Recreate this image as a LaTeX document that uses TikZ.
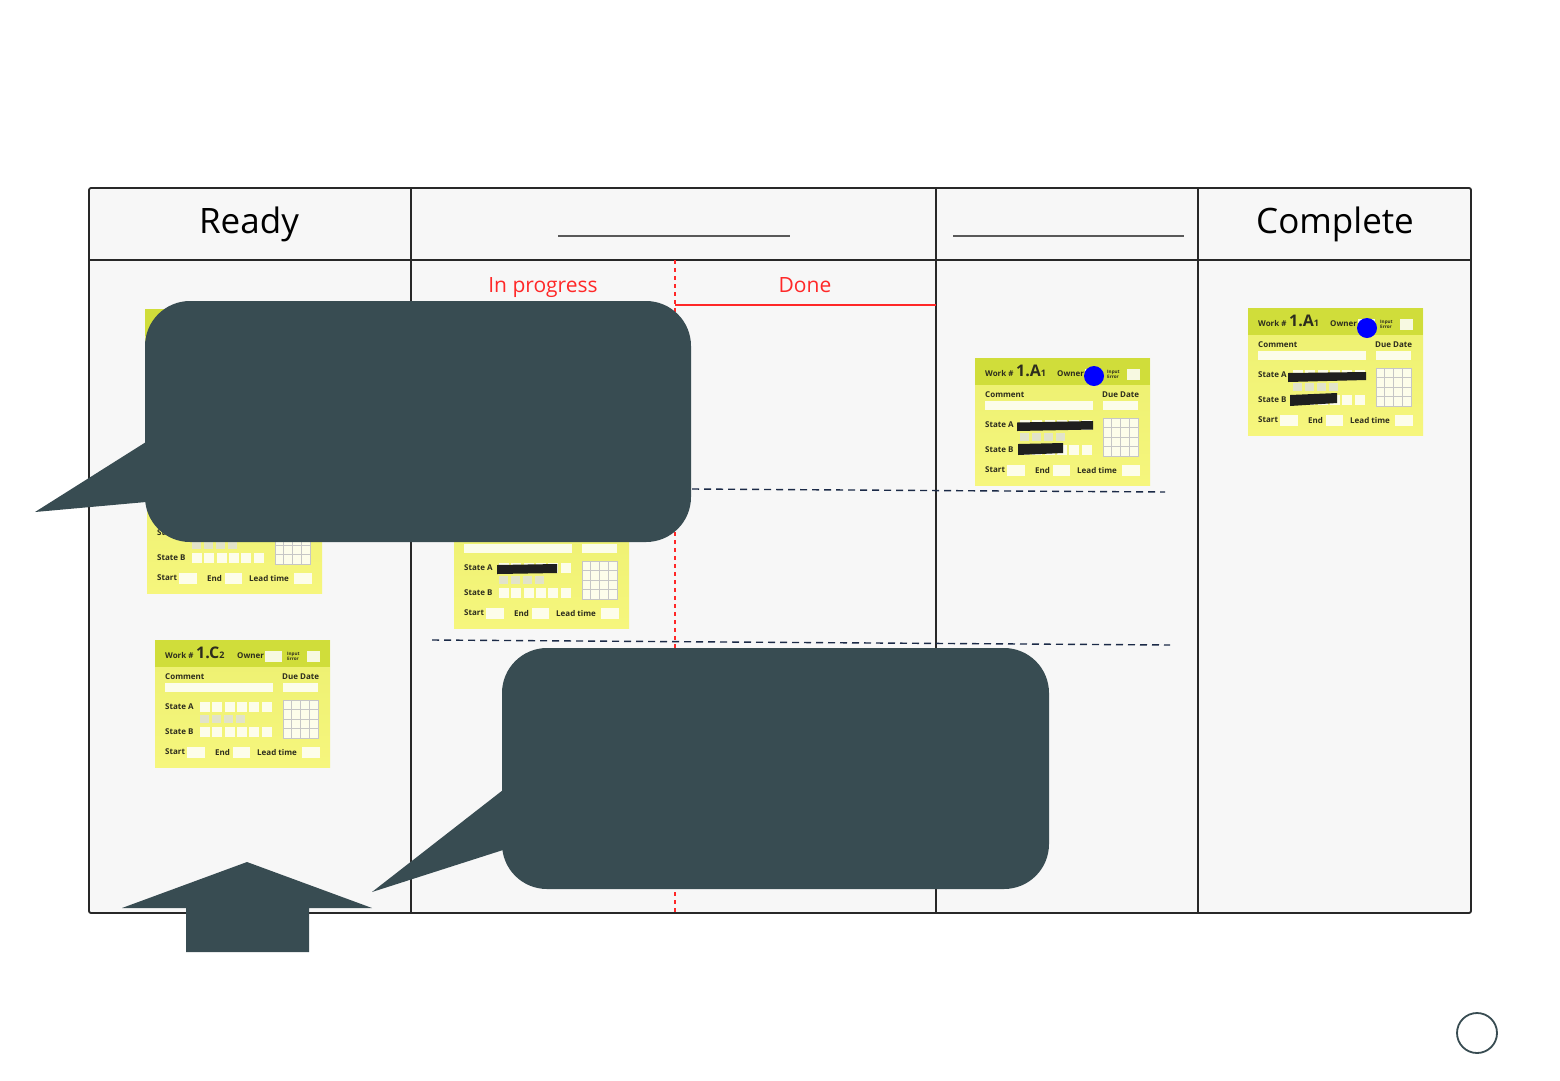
\documentclass[tikz,border=0pt]{standalone}
\usepackage{fontspec}
\setmainfont{Open Sans}
\definecolor{boardbg}{RGB}{247,247,247}
\definecolor{boardline}{RGB}{40,40,40}
\definecolor{calloutbg}{RGB}{56,76,82}
\definecolor{flowred}{RGB}{255,40,40}
\definecolor{navydash}{RGB}{27,42,71}
\definecolor{cardhead}{RGB}{208,221,58}
\definecolor{cardtop}{RGB}{236,240,112}
\definecolor{cardbot}{RGB}{246,246,125}
\definecolor{cardink}{RGB}{45,45,30}

\tikzset{
  cardtxt/.style={anchor=west, inner sep=0, text=cardink,
    font=\bfseries\fontsize{8}{8}\selectfont},
  whitebox/.style={fill=white, fill opacity=.85},
  graybox/.style={fill=gray!25, fill opacity=.8},
  gridline/.style={draw=gray!45, line width=.6},
  heading/.style={anchor=base, inner sep=0, font=\fontsize{35}{40}\selectfont},
  sublabel/.style={anchor=base, inner sep=0, text=flowred, font=\fontsize{21}{24}\selectfont},
  blank/.style={draw=gray!70!black, line width=1.3},
  lane/.style={draw=navydash, line width=1.4, dash pattern=on 7pt off 5pt},
  redact/.style={fill=black!88},
}

\newcommand{\workcard}[5]{%
  \begin{scope}[shift={(#2,#3)}]
    \shade[top color=cardtop, bottom color=cardbot] (0,0) rectangle (175,127);
    \fill[cardhead] (0,0) rectangle (175,27);
    \node[cardtxt] (#1-work) at (10,15) {Work \#};
    \node[cardtxt, font=\bfseries\fontsize{16}{16}\selectfont] (#1-num) at (41,13)
      {#4{\fontsize{9}{9}\selectfont #5}};
    \node[cardtxt] (#1-owner) at (82,16) {Owner};
    \fill[whitebox] (110,11) rectangle (127,22);
    \node[cardtxt, font=\bfseries\fontsize{4.6}{4.8}\selectfont, align=left] (#1-input) at (132,16) {Input\\Error};
    \fill[whitebox] (152,11) rectangle (165,22);
    \node[cardtxt] (#1-comment) at (10,37) {Comment};
    \node[cardtxt] (#1-due) at (127,37) {Due Date};
    \fill[whitebox] (10,43) rectangle (118,52);
    \fill[whitebox] (128,43) rectangle (163,52);
    \node[cardtxt] (#1-statea) at (10,67) {State A};
    \node[cardtxt] (#1-stateb) at (10,92) {State B};
    \foreach \i in {0,...,5} {
      \fill[whitebox] (45+12.3*\i,62) rectangle ++(10,10);
      \fill[whitebox] (45+12.3*\i,87) rectangle ++(10,10);
    }
    \foreach \i in {0,...,3}
      \fill[graybox] (45+12*\i,75) rectangle ++(9,8);
    \fill[whitebox] (128,60) rectangle (163,98);
    \foreach \i in {1,2,3} {
      \draw[gridline] (128+8.75*\i,60) -- (128+8.75*\i,98);
      \draw[gridline] (128,60+9.5*\i) -- (163,60+9.5*\i);
    }
    \draw[gridline] (128,60) rectangle (163,98);
    \node[cardtxt] (#1-start) at (10,112) {Start};
    \fill[whitebox] (32,107) rectangle (50,118);
    \node[cardtxt] (#1-end) at (60,112) {End};
    \fill[whitebox] (78,107) rectangle (95,118);
    \node[cardtxt] (#1-lead) at (102,112) {Lead time};
    \fill[whitebox] (147,107) rectangle (165,118);
  \end{scope}}

\begin{document}
\begin{tikzpicture}[x=1pt, y=-1pt]
    \useasboundingbox[fill=white] (0,0) rectangle (1560,1080);

    \draw[boardline, line width=1.8, fill=boardbg, rounded corners=2] (89,188) rectangle (1471,913);
    \draw[boardline, line width=1.8] (89,260) -- (1471,260);
    \foreach \x in {411,936,1198}
        {\draw[boardline, line width=1.8] (\x,188) -- (\x,913);}

    \node[heading] (ready) at (249,233) {Ready};
    \node[heading] (complete) at (1335,233) {Complete};
    \draw[blank] (558,236) -- (790,236);
    \draw[blank] (953,236) -- (1184,236);

    \draw[flowred, line width=1.5, dash pattern=on 4pt off 4pt] (675,260) -- (675,913);
    \draw[flowred, line width=1.8] (675,305) -- (936,305);
    \node[sublabel] (inprogress) at (543,292) {In progress};
    \node[sublabel] (done) at (805,292) {Done};

    \draw[lane] (692,489) -- (1165,492);
    \draw[lane] (432,640) -- (1170,645);

    \workcard{rdyone}{145}{309}{1.C}{1}
    \workcard{rdytwo}{147}{466}{1.C}{1}
    \workcard{rdythree}{155}{640}{1.C}{2}
    \workcard{prog}{454}{501}{1.B}{1}
    \workcard{insp}{975}{358}{1.A}{1}
    \workcard{cmpl}{1248}{308}{1.A}{1}

    \begin{scope}[shift={(454,501)}]
        \fill[redact] (43,64) -- (103,63) -- (103,72) -- (43,73) -- cycle;
    \end{scope}
    \begin{scope}[shift={(975,358)}]
        \fill[redact] (42,64.5) -- (118,63) -- (118,71.5) -- (42,73) -- cycle;
        \fill[redact] (43,86) -- (88,85) -- (88,95) -- (43,97) -- cycle;
        \fill[blue] (119,18) circle (10);
    \end{scope}
    \begin{scope}[shift={(1248,308)}]
        \fill[redact] (40,65) -- (118,64) -- (118,72) -- (40,74) -- cycle;
        \fill[redact] (42,87) -- (89,85) -- (89,95) -- (42,98) -- cycle;
        \fill[blue] (119,20) circle (10);
    \end{scope}

    \fill[calloutbg, rounded corners=45] (145,301) rectangle (691,542);
    \fill[calloutbg] (146,442) -- (35,512) -- (146,502) -- cycle;
    \fill[calloutbg, rounded corners=45] (502,648) rectangle (1049,889);
    \fill[calloutbg] (503,790) -- (372,892) -- (503,850) -- cycle;

    \fill[calloutbg] (122,908) -- (247,862) -- (372,908) -- (309,908)
        -- (309,952) -- (186,952) -- (186,908) -- cycle;

    \node[draw=calloutbg, circle, line width=1.8, minimum size=40, inner sep=0] (knob) at (1477,1033) {};
\end{tikzpicture}
\end{document}
